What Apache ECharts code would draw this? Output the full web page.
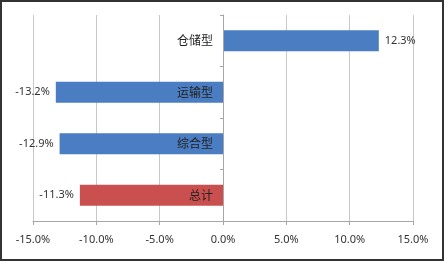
<!DOCTYPE html>
<html><head><meta charset="utf-8">
<script src="https://cdn.jsdelivr.net/npm/echarts@6/dist/echarts.min.js"></script>
<style>html,body{margin:0;padding:0;background:#fff}#c{width:440px;height:257px;border:2px solid #333;}</style>
</head><body><div id="c"></div>
<script>
var categories = ['仓储型', '运输型', '综合型', '总计'];
var values = [12.3, -13.2, -12.9, -11.3];
var barColors = ['#4a7dc1', '#4a7dc1', '#4a7dc1', '#c9504f'];
var xTicks = {min: -15, max: 15, interval: 5};

var chart = echarts.init(document.getElementById('c'), null, {renderer: 'canvas'});
var numFont = 'Noto Sans, sans-serif';
var gridLeft = 31, gridRight = 29, plotW = 440 - gridLeft - gridRight;
chart.setOption({
  animation: false,
  grid: {left: gridLeft, right: gridRight, top: 13, bottom: 38, containLabel: false, outerBoundsMode: 'none'},
  xAxis: {
    type: 'value', min: xTicks.min, max: xTicks.max, interval: xTicks.interval,
    axisLine: {show: true, lineStyle: {color: '#a6a6a6'}},
    axisTick: {show: true, length: 4, lineStyle: {color: '#a6a6a6'}},
    splitLine: {show: true, lineStyle: {color: '#c8c8c8'}},
    axisLabel: {color: '#333', fontSize: 11, fontFamily: numFont, margin: 13,
      formatter: function (v) { return v.toFixed(1) + '%'; }}
  },
  yAxis: {
    type: 'category', data: categories, inverse: true, z: 10,
    offset: -plotW * (0 - xTicks.min) / (xTicks.max - xTicks.min),
    axisLine: {show: true, onZero: false, lineStyle: {color: '#a6a6a6'}},
    axisTick: {show: true, length: 3, lineStyle: {color: '#a6a6a6'}},
    splitLine: {show: false},
    axisLabel: {color: '#222', fontSize: 12, fontFamily: 'Noto Sans CJK SC', margin: 10}
  },
  series: [{
    type: 'bar', barWidth: '41%', z: 2,
    data: values.map(function (v, i) {
      return {value: v, itemStyle: {color: barColors[i]},
        label: {position: v >= 0 ? 'right' : 'left'}};
    }),
    label: {show: true, distance: 6, color: '#333', fontSize: 11, fontFamily: numFont,
      formatter: function (p) { return p.value.toFixed(1) + '%'; }}
  }]
});
</script></body></html>
